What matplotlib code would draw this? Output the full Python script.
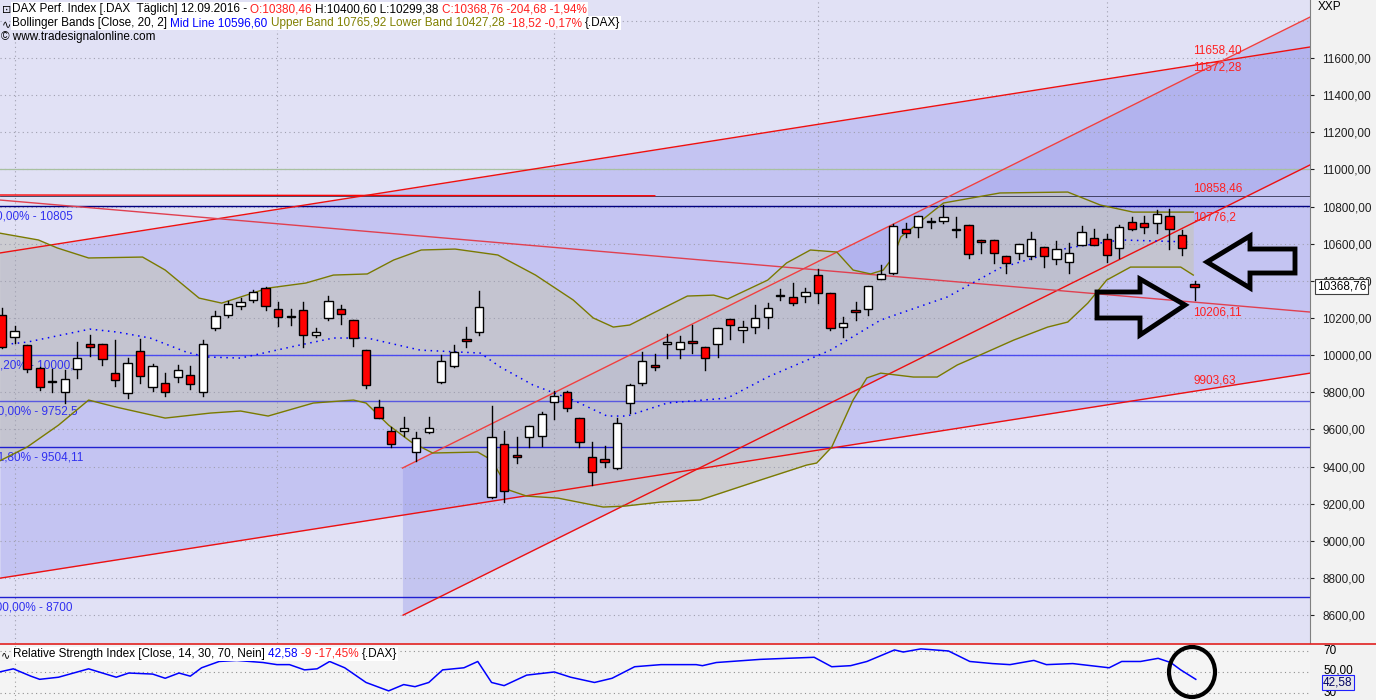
import matplotlib
matplotlib.use("Agg")
import matplotlib.pyplot as plt
import matplotlib.patches as mpatches
from matplotlib.ticker import FixedLocator, FuncFormatter
import numpy as np

plt.rcParams['font.family'] = ['Liberation Sans', 'DejaVu Sans']

# ---------------- data ----------------
opens = [10216,10097,10054,9930,9855,9801,9925,10060,10060,9904,9796,10022,9828,9850,9882,9893,9801,10146,10216,10264,
         10297,10361,10248,10205,10243,10108,10200,10248,10189,10027,9720,9591,9591,9478,9586,9855,9941,10086,10124,9236,
         9521,9462,9559,9564,9747,9801,9661,9451,9440,9392,9742,9850,9947,10060,10033,10076,10043,10060,10194,10135,
         10151,10205,10318,10312,10318,10431,10334,10151,10243,10248,10410,10442,10679,10690,10717,10722,10674,10700,10620,10620,
         10533,10550,10533,10582,10517,10501,10593,10630,10625,10577,10717,10711,10711,10749,10647,10380.46]
highs = [10253,10157,10054,9936,9925,9920,10070,10108,10060,10081,9984,10086,9952,9904,9947,9941,10081,10237,10291,10307,
         10350,10366,10286,10248,10286,10146,10318,10270,10189,10027,9758,9613,9667,9586,9667,10000,10054,10151,10345,9726,
         9591,9559,9618,9693,9806,9806,9661,9532,9510,9661,9844,10016,10006,10113,10103,10162,10043,10146,10194,10184,
         10270,10280,10356,10388,10361,10463,10334,10205,10286,10372,10485,10706,10711,10749,10738,10808,10743,10700,10620,10620,
         10533,10598,10663,10582,10614,10604,10695,10679,10652,10700,10743,10749,10781,10787,10674,10400.60]
lows = [10038,10065,9909,9812,9801,9742,9877,9995,9947,9833,9769,9850,9807,9780,9855,9817,9780,10135,10205,10248,
        10286,10243,10157,10162,10043,10097,10189,10167,10049,9823,9661,9505,9564,9430,9580,9850,9936,10043,10108,9230,
        9209,9419,9505,9510,9656,9699,9505,9300,9397,9386,9688,9839,9920,9984,9984,10011,9920,9990,10086,10070,
        10119,10146,10297,10270,10286,10280,10135,10097,10189,10216,10410,10436,10636,10636,10684,10711,10636,10523,10550,10496,
        10442,10517,10517,10474,10490,10442,10593,10593,10501,10523,10674,10657,10657,10571,10539,10299.38]
closes = [10043,10130,9925,9828,9857,9871,9984,10043,9979,9866,9957,9887,9941,9801,9920,9844,10060,10210,10275,10286,
          10339,10264,10205,10207,10108,10124,10291,10221,10092,9839,9661,9521,9607,9553,9607,9968,10016,10076,10259,9559,
          9268,9451,9618,9683,9780,9715,9532,9370,9424,9634,9839,9968,9936,10070,10070,10065,9984,10146,10162,10151,
          10200,10253,10320,10280,10339,10334,10146,10173,10232,10372,10436,10695,10657,10749,10719,10743,10676,10544,10609,10550,
          10496,10598,10625,10533,10571,10550,10663,10593,10539,10690,10679,10690,10760,10679,10577,10368.76]

upper_x = [-0.2,2.9,4.4,6.9,11.2,13.0,15.7,17.5,21.2,24.2,26.4,29.1,31.2,33.4,36.1,39.5,42.5,45.5,47.1,48.7,50.0,51.9,
           54.6,56.7,57.8,61.0,62.5,64.4,66.5,67.8,69.2,70.2,71.0,71.6,75.0,79.5,84.9,87.5,90.1,94.9]
upper_v = [10657,10620,10577,10523,10528,10458,10307,10280,10361,10388,10431,10437,10512,10566,10571,10539,10431,10297,10200,10151,10162,10227,
           10318,10323,10302,10404,10496,10566,10555,10458,10437,10458,10528,10636,10819,10873,10878,10808,10770,10770]
lower_x = [-0.2,2.0,4.5,6.9,9.1,13.0,16.6,19.0,21.2,24.8,28.0,29.0,30.8,32.6,34.3,37.9,39.0,40.4,41.8,44.3,47.9,49.6,52.5,55.6,
           60.4,64.1,64.9,66.1,67.8,68.9,70.0,72.6,74.5,76.1,77.9,80.6,83.3,84.9,86.5,88.0,89.9,93.9,94.9]
lower_v = [9430,9505,9623,9758,9720,9661,9688,9699,9672,9742,9758,9742,9623,9532,9473,9478,9435,9273,9241,9230,9182,9187,9209,9220,
           9327,9408,9419,9505,9758,9877,9903,9882,9882,9947,10000,10081,10151,10178,10280,10404,10474,10474,10431]
mid_x = [-0.2,2.0,7.0,9.2,11.8,14.7,16.3,19.0,23.7,26.4,29.1,33.3,38.1,39.7,42.3,45.5,48.2,49.8,53.0,57.8,61.0,66.0,70.0,75.3,79.5,84.9,89.1,94.7]
mid_v = [10054,10070,10140,10124,10092,10016,9990,9984,10054,10092,10092,10027,10011,9936,9839,9758,9672,9672,9742,9769,9882,10027,10189,10313,10469,10577,10620,10609]

rsi_x = [-0.2,0.9,2.3,3.0,4.5,6.9,9.1,10.1,12.0,13.0,14.1,15.0,15.9,17.3,18.7,20.8,21.9,22.9,24.1,25.1,26.1,27.3,29.0,30.8,32.0,32.9,
         34.0,35.1,36.8,37.9,39.0,40.0,41.8,44.0,45.3,47.2,48.6,50.4,52.5,55.3,55.8,56.9,60.4,62.5,64.7,66.1,67.6,68.9,71.1,71.8,
         73.2,75.4,77.1,78.9,80.3,82.2,83.2,85.3,88.2,89.2,90.7,92.1,93.1,93.9,95.1]
rsi_v = [50,53,46,43,45,53,45,49,48,44,49,46,54,60,61,59,57,57,52,53,60,54,40,32,38,36,
         40,52,54,60,40,37,47,50,45,40,44,55,57,57,56,59,62,63,64,55,56,60,71,69,
         72,70,60,58,57,61,57,58,54,60,60,63,59,52,43]

# trend lines: (x0, v0, x1, v1)
line_A = (-0.16, 10550, 104.2, 11659)
line_B = (-0.16, 8799, 104.2, 9903)
line_C = (31.9, 9392, 104.2, 11820)
line_D = (31.95, 8600, 104.2, 11024)
line_E = (-0.16, 10835, 104.2, 10232)
fib_levels = [10805, 10000, 9752.5, 9504.11, 8700]
fib_labels = ["0,00% - 10805", "38,20% - 10000,0", "50,00% - 9752,5", "61,80% - 9504,11", "100,00% - 8700"]
right_labels = [("11658,40", 11640), ("11572,28", 11550), ("10858,46", 10898), ("10776,2", 10742),
                ("10206,11", 10232), ("9903,63", 9863)]

W, H = 1376, 700
fig = plt.figure(figsize=(W/100, H/100), dpi=100)
fig.patch.set_facecolor('#f2f2f2')

def fx(px): return px / W
def fy(py): return 1 - py / H

XMIN, XMAX = -0.16, 104.2
ax = fig.add_axes([0, fy(643), fx(1310), 643/H])
ax.set_xlim(XMIN, XMAX)
ax.set_ylim(8450, 11912)
ax.set_facecolor('#e1e1f5')

def lineval(L, xs):
    x0, v0, x1, v1 = L
    return v0 + (v1 - v0) * (np.asarray(xs) - x0) / (x1 - x0)

xs = np.linspace(XMIN, XMAX, 200)
ax.fill_between(xs, lineval(line_A, xs), lineval(line_B, xs), color='#c4c4f2', zorder=1, lw=0)
xs2 = np.linspace(line_C[0], XMAX, 200)
ax.fill_between(xs2, lineval(line_C, xs2), lineval(line_D, xs2), color='#9598e8', alpha=0.38, zorder=1.5, lw=0)

bx = np.linspace(-0.2, 94.9, 400)
up = np.interp(bx, upper_x, upper_v)
lo = np.interp(bx, lower_x, lower_v)
ax.fill_between(bx, up, lo, color='#c4c4c4', alpha=0.72, zorder=2, lw=0)

for v in range(8600, 11801, 200):
    ax.axhline(v, color='#a0a0b0', lw=0.8, ls=(0, (1, 3)), zorder=2.2)
for xv in [1.0, 21.9, 44.0, 65.0, 88.0]:
    ax.axvline(xv, color='#a0a0b0', lw=0.8, ls=(0, (1, 3)), zorder=2.2)

ax.axhline(11000, color='#a8c0a0', lw=0.9, zorder=2.5)
ax.axhline(10858.46, color='#303050', lw=0.6, zorder=2.5)
ax.plot([XMIN, 52], [10862, 10858], color='red', lw=1.0, zorder=2.6)
fib_cols = ['#000080', '#4a4af0', '#5858e0', '#2020d0', '#2020d0']
for v, c in zip(fib_levels, fib_cols):
    ax.axhline(v, color=c, lw=1.0, zorder=2.5)
fib_off = [-0.5, -1.2, -0.9, -0.9, -1.0]
for v, t, o in zip(fib_levels, fib_labels, fib_off):
    ax.text(o, v - 25, t, color='#3030f0', fontsize=8.5, va='top', ha='left', zorder=2.6, clip_on=True)

for L, c in [(line_A, '#ee1010'), (line_B, '#ee1010'), (line_C, '#f04040'), (line_D, '#ee1010'), (line_E, '#e04050')]:
    ax.plot([L[0], L[2]], [L[1], L[3]], color=c, lw=1.0, zorder=3)

ax.plot(upper_x, upper_v, color='#7a7a00', lw=1.0, zorder=3.5)
ax.plot(lower_x, lower_v, color='#7a7a00', lw=1.0, zorder=3.5)
ax.plot(mid_x, mid_v, color='#0000ff', lw=1.1, ls=(0, (1, 3)), zorder=3.5)

for i, (o, h, l, c) in enumerate(zip(opens, highs, lows, closes)):
    ax.plot([i, i], [l, h], color='black', lw=1.0, zorder=4)
    bot, top = min(o, c), max(o, c)
    col = 'white' if c >= o else '#ff0000'
    hgt = max(top - bot, 6)
    ax.add_patch(mpatches.Rectangle((i - 0.33, bot), 0.66, hgt, facecolor=col, edgecolor='black', lw=1.0, zorder=5))

for t, v in right_labels:
    ax.text(94.9, v, t, color='#ff2020', fontsize=8.5, va='center', ha='left', zorder=6)

ax.yaxis.tick_right()
ax.yaxis.set_major_locator(FixedLocator(list(range(8600, 11601, 200))))
ax.yaxis.set_major_formatter(FuncFormatter(lambda v, p: f"{int(v)},00"))
ax.tick_params(axis='y', labelsize=8.5, length=3, pad=6, colors='#202020')
ax.set_xticks([])
for s in ['top', 'left', 'bottom']:
    ax.spines[s].set_visible(False)
ax.spines['right'].set_color('#808080')
ax.text(1.005, 10368.76, "10368,76", transform=ax.get_yaxis_transform(), fontsize=8.5, va='center', ha='left',
        bbox=dict(boxstyle='square,pad=0.15', fc='white', ec='#404040', lw=0.8), zorder=7)

def pix_poly(pts, **kw):
    p = mpatches.Polygon([(fx(a), fy(b)) for a, b in pts], closed=True, transform=fig.transFigure, **kw)
    fig.patches.append(p)
pix_poly([(1207, 262), (1250, 236), (1250, 249), (1295, 249), (1295, 273), (1250, 273), (1250, 288)],
         fc='none', ec='black', lw=3.5)
pix_poly([(1185, 305), (1140, 279), (1140, 292), (1097, 292), (1097, 318), (1140, 318), (1140, 335)],
         fc='none', ec='black', lw=3.5)

ax2 = fig.add_axes([0, 0, fx(1310), 55/H])
ax2.set_xlim(XMIN, XMAX)
ax2.set_ylim(23.3, 75.7)
ax2.set_facecolor('#f4f4f4')
for v in [70, 50, 30]:
    ax2.axhline(v, color='#909090', lw=0.8, ls=(0, (1, 3)))
for xv in [1.0, 44.0, 88.0]:
    ax2.axvline(xv, color='#a0a0a0', lw=0.8, ls=(0, (1, 3)))
ax2.plot(rsi_x, rsi_v, color='#0000ff', lw=1.1)
ax2.set_xticks([])
ax2.set_yticks([])
for s in ['top', 'left', 'bottom', 'right']:
    ax2.spines[s].set_visible(False)
fig.add_artist(plt.Line2D([0, fx(1376)], [fy(643.5), fy(643.5)], color='#e02020', lw=1.2, transform=fig.transFigure))
for t, v in [("70", 70), ("50,00", 51), ("30", 30)]:
    ax2.text(1.01, v, t, transform=ax2.get_yaxis_transform(), fontsize=8.5, va='center', ha='left', color='black')
ax2.text(1.01, 40.0, "42,58", transform=ax2.get_yaxis_transform(), fontsize=8.5, va='center', ha='left',
         color='#000060', bbox=dict(boxstyle='square,pad=0.1', fc='#e8e8e8', ec='#2020ff', lw=0.8), zorder=5)
ell = mpatches.Ellipse((fx(1192), fy(672)), fx(46), 50/H, transform=fig.transFigure, fc='none', ec='black', lw=3)
fig.patches.append(ell)

def seg_text(axx, x, y, parts, bg=None):
    prev = None
    for s, c in parts:
        kw = dict(color=c, fontsize=8.5, va='bottom', ha='left', zorder=10)
        if bg:
            kw['bbox'] = dict(fc=bg, ec='none', pad=0.6)
        if prev is None:
            prev = axx.annotate(s, xy=(fx(x), fy(y)), xycoords='figure fraction', annotation_clip=False, **kw)
        else:
            prev = axx.annotate(s, xy=(1, 0), xycoords=prev, annotation_clip=False, **kw)

seg_text(ax, 12, 15, [("DAX Perf. Index [.DAX  Täglich] 12.09.2016 - ", 'black'), ("O:10380,46 ", '#ff2020'),
                      ("H:10400,60 L:10299,38 ", 'black'), ("C:10368,76 -204,68 -1,94%", '#ff2020')], bg='white')
seg_text(ax, 12, 29, [("Bollinger Bands [Close, 20, 2] ", 'black'), ("Mid Line 10596,60 ", '#0000ff'),
                      ("Upper Band 10765,92 Lower Band 10427,28 ", '#808000'), ("-18,52 -0,17% ", '#ff2020'),
                      ("{.DAX}", 'black')], bg='white')
fig.text(fx(2), fy(29), "∿", fontsize=8, va='bottom', ha='left')
fig.text(fx(2), fy(15), "⊡", fontsize=8, va='bottom', ha='left')
fig.text(fx(1), fy(43), "© www.tradesignalonline.com", fontsize=8.5, va='bottom', ha='left')
seg_text(ax2, 13, 660, [("Relative Strength Index [Close, 14, 30, 70, Nein] ", 'black'), ("42,58 ", '#0000ff'),
                        ("-9 -17,45% ", '#ff2020'), ("{.DAX}", 'black')], bg='white')
fig.text(fx(1), fy(660), "∿", fontsize=8, va='bottom', ha='left')
fig.text(fx(1318), fy(13), "XXP", fontsize=8.5, va='bottom', ha='left')

fig.savefig("out.png", dpi=100, facecolor=fig.get_facecolor())
